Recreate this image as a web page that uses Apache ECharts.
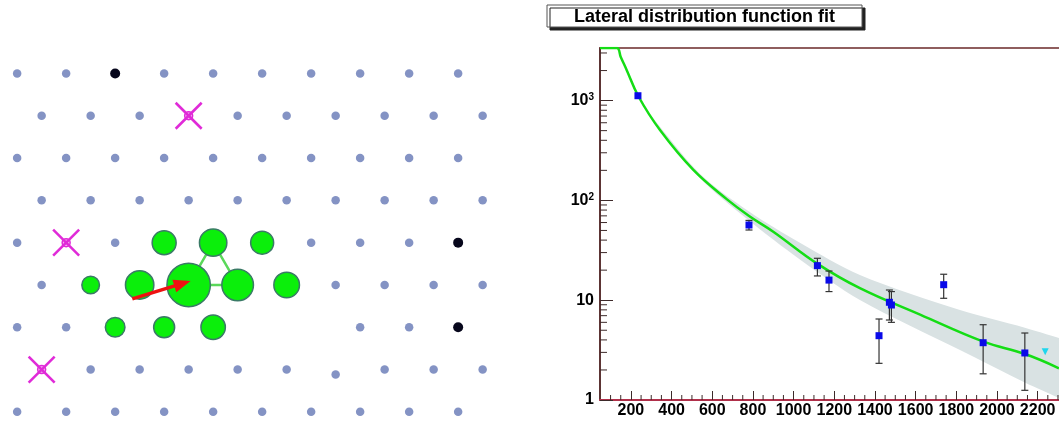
<!DOCTYPE html>
<html><head><meta charset="utf-8">
<script src="https://cdn.jsdelivr.net/npm/echarts@6/dist/echarts.min.js"></script>
<style>html,body{margin:0;padding:0;background:#fff}#c{width:1059px;height:423px}</style>
</head><body><div id="c"></div>
<script>
// ---------- Lateral distribution function (right panel) ----------
const titleText = 'Lateral distribution function fit';
const xTickLabels = [200, 400, 600, 800, 1000, 1200, 1400, 1600, 1800, 2000, 2200];
const yTickLabels = [1, 10, 100, 1000];
const xRange = [48, 2305];
const yRange = [1, 3365];

// measured station signals vs distance
const distances = [234.6, 780.6, 1117, 1174, 1420, 1471, 1481, 1738, 1932, 2137];
const signals   = [1119, 56.7, 22.2, 15.9, 4.41, 9.53, 8.95, 14.3, 3.75, 2.96];
const errLow    = [null, 50.5, 17.5, 12.2, 2.33, 6.33, 6.0, 10.45, 1.83, 1.25];
const errHigh   = [null, 63, 26.3, 19.6, 6.48, 12.65, 12.2, 18.2, 5.68, 4.69];
// non-triggered / special station
const silentDist = [2237];
const silentSignal = [3.05];

// fitted LDF curve (top part clipped at frame)
const fitX = [48, 131, 150, 179, 236, 343, 507, 671, 781, 900, 1114, 1326, 1622, 1933, 2138, 2305];
const fitY = [3365, 3365, 2735, 2028, 1112, 507, 202, 103, 69.8, 48.6, 23.4, 13.2, 7.16, 3.84, 2.89, 2.08];

// uncertainty band of the fit
const bandX     = [300, 540, 781, 1031, 1326, 1818, 2137, 2305];
const bandUpper = [700, 184, 77.4, 37.6, 17.9, 7.97, 5.3, 4.18];
const bandLower = [690, 168, 62.9, 25.6, 10.05, 3.17, 1.5, 1.05];

// ---------- Detector array (left panel) ----------
// positions in units of grid spacing (x) and row index (y)
const stationsGray = [
  [0,0],[1,0],[3,0],[4,0],[5,0],[6,0],[7,0],[8,0],[9,0],
  [0.5,1],[1.5,1],[2.5,1],[4.5,1],[5.5,1],[6.5,1],[7.5,1],[8.5,1],[9.5,1],
  [0,2],[1,2],[2,2],[3,2],[4,2],[5,2],[6,2],[7,2],[8,2],[9,2],
  [0.5,3],[1.5,3],[2.5,3],[3.5,3],[4.5,3],[5.5,3],[6.5,3],[7.5,3],[8.5,3],[9.5,3],
  [0,4],[2,4],[6,4],[7,4],[8,4],
  [0.5,5],[6.5,5],[7.5,5],[8.5,5],[9.5,5],
  [0,6],[1,6],[7,6],[8,6],
  [1.5,7],[2.5,7],[3.5,7],[4.5,7],[5.5,7],[6.5,7.12],[7.5,7],[8.5,7],[9.5,7],
  [0,8],[1,8],[2,8],[3,8],[4,8],[5,8],[6,8],[7,8],[8,8],[9,8]
];
const stationsDead = [[2,0],[9,4],[9,6]];
const stationsCrossed = [[3.5,1],[1,4],[0.5,7]];
// triggered stations: x, y, signal (VEM)
const stationsHit = [
  [3,4,11.2],[4,4,25.1],[5,4,8.8],
  [1.5,5,2.46],[2.5,5,31.8],[3.5,5,1110],[4.5,5,67.8],[5.5,5,16.4],
  [2,6,3.95],[3,6,5.5],[4,6,12.3]
];
const triangle = [[3.5,5],[4,4],[4.5,5],[3.5,5]];
const arrowTail = [2.35, 5.33];
const showerCore = [3.54, 4.906];

// ---------- helpers ----------
const FONT = '"Liberation Sans", Arial, Helvetica, sans-serif';
const yMinorTicks = [];
[1, 10, 100, 1000].forEach(d => { for (let k = 2; k <= 9; k++) if (d * k < yRange[1]) yMinorTicks.push([xRange[0], d * k]); });
const xMinorTicks = [];
for (let v = 100; v < xRange[1]; v += 50) if (v % 200 !== 0) xMinorTicks.push([v, yRange[0]]);

const pts = distances.map((d, i) => [d, signals[i]]);
const errs = distances.map((d, i) => errLow[i] == null ? null : [d, errLow[i], errHigh[i]]).filter(Boolean);
const tickColor = '#3d2a2a';

const chart = echarts.init(document.getElementById('c'), null, {renderer: 'canvas'});
chart.setOption({
  backgroundColor: '#fff',
  animation: false,
  graphic: [
    {type: 'rect', shape: {x: 547, y: 5, width: 315, height: 22},
     style: {fill: '#fff', stroke: '#555', lineWidth: 1, shadowColor: '#222', shadowOffsetX: 3, shadowOffsetY: 3, shadowBlur: 0}, z: 10},
    {type: 'text', x: 704.5, y: 17.5,
     style: {text: titleText, font: 'bold 18px ' + FONT, fill: '#000', align: 'center', verticalAlign: 'middle', textAlign: 'center', textVerticalAlign: 'middle'}, z: 11}
  ],
  grid: [
    {left: 600, top: 48, right: 0, bottom: 23, outerBoundsMode: 'none'},
    {left: 0, top: 10, width: 524.3, height: 410.3, outerBoundsMode: 'none'}
  ],
  xAxis: [
    {type: 'value', gridIndex: 0, min: xRange[0], max: xRange[1], position: 'bottom',
     axisLine: {show: true, onZero: false, lineStyle: {color: '#b0304a', width: 2}},
     axisTick: {show: true, inside: true, length: 9, customValues: xTickLabels, lineStyle: {color: tickColor, width: 1}},
     axisLabel: {show: true, customValues: xTickLabels, margin: 3, color: '#000', fontSize: 16, fontWeight: 'bold', fontFamily: FONT,
       formatter: v => String(v)},
     splitLine: {show: false}},
    {type: 'value', gridIndex: 0, min: xRange[0], max: xRange[1], position: 'top',
     axisLine: {show: true, onZero: false, lineStyle: {color: '#6b2a2a', width: 1.5}},
     axisTick: {show: false}, axisLabel: {show: false}, splitLine: {show: false}},
    {type: 'value', gridIndex: 1, min: -0.35, max: 10.35, show: false}
  ],
  yAxis: [
    {type: 'log', logBase: 10, gridIndex: 0, min: yRange[0], max: yRange[1],
     axisLine: {show: true, onZero: false, lineStyle: {color: '#5c3434', width: 2}},
     axisTick: {show: true, inside: true, length: 13, lineStyle: {color: tickColor, width: 1}},
     axisLabel: {show: true, margin: 6, color: '#000', fontSize: 16, fontWeight: 'bold', fontFamily: FONT,
       formatter: v => {
         const e = Math.round(Math.log10(v));
         if (Math.abs(Math.log10(v) - e) > 1e-6) return '';
         if (!yTickLabels.includes(Math.pow(10, e))) return '';
         return e <= 1 ? String(Math.pow(10, e)) : '10{s|' + e + '}';
       },
       rich: {s: {fontSize: 10, fontWeight: 'bold', fontFamily: FONT, color: '#000', verticalAlign: 'top', lineHeight: 10, padding: [0, 0, 6, 0]}}},
     splitLine: {show: false}},
    {type: 'value', gridIndex: 1, min: -1.5, max: 8.2, inverse: true, show: false}
  ],
  series: [
    // uncertainty band (polygon between upper and lower edges; end points doubled to keep corners sharp)
    {type: 'custom', xAxisIndex: 0, yAxisIndex: 0, data: [[bandX[0], bandLower[0]]], z: 1, silent: true, clip: true,
     renderItem: (params, api) => {
       const up = bandX.map((x, i) => api.coord([x, bandUpper[i]]));
       const lo = bandX.map((x, i) => api.coord([x, bandLower[i]])).reverse();
       const n = up.length;
       const pts = [up[0]].concat(up, [up[n - 1]], [lo[0]], lo, [lo[n - 1]]);
       return {type: 'polygon', shape: {points: pts, smooth: 0.3}, style: {fill: '#d9e2e3'}};
     }},
    // fit curve
    {type: 'line', xAxisIndex: 0, yAxisIndex: 0, symbol: 'none', smooth: 0.4, clip: true, silent: true,
     data: fitX.map((x, i) => [x, fitY[i]]), lineStyle: {color: '#15dd15', width: 2.5}, z: 3},
    // error bars
    {type: 'custom', xAxisIndex: 0, yAxisIndex: 0, data: errs, encode: {x: 0, y: [1, 2]}, z: 4, silent: true,
     renderItem: (params, api) => {
       const x = api.value(0), a = api.coord([x, api.value(2)]), b = api.coord([x, api.value(1)]);
       const c = 3.5, st = {stroke: '#333', lineWidth: 1.2};
       return {type: 'group', children: [
         {type: 'line', shape: {x1: a[0], y1: a[1], x2: b[0], y2: b[1]}, style: st},
         {type: 'line', shape: {x1: a[0] - c, y1: a[1], x2: a[0] + c, y2: a[1]}, style: st},
         {type: 'line', shape: {x1: b[0] - c, y1: b[1], x2: b[0] + c, y2: b[1]}, style: st}
       ]};
     }},
    // measured signals
    {type: 'scatter', xAxisIndex: 0, yAxisIndex: 0, symbol: 'rect', symbolSize: 7, data: pts,
     itemStyle: {color: '#0a0ae8', opacity: 1}, z: 5, silent: true},
    {type: 'scatter', xAxisIndex: 0, yAxisIndex: 0, symbol: 'triangle', symbolRotate: 180, symbolSize: 7,
     data: silentDist.map((d, i) => [d, silentSignal[i]]), itemStyle: {color: '#1ed6ee', opacity: 1}, z: 5, silent: true},
    // minor ticks
    {type: 'custom', xAxisIndex: 0, yAxisIndex: 0, data: yMinorTicks, z: 6, silent: true,
     renderItem: (params, api) => {
       const p = api.coord([api.value(0), api.value(1)]);
       return {type: 'line', shape: {x1: p[0], y1: p[1], x2: p[0] + 7, y2: p[1]}, style: {stroke: tickColor, lineWidth: 1}};
     }},
    {type: 'custom', xAxisIndex: 0, yAxisIndex: 0, data: xMinorTicks, z: 6, silent: true,
     renderItem: (params, api) => {
       const p = api.coord([api.value(0), api.value(1)]);
       return {type: 'line', shape: {x1: p[0], y1: p[1], x2: p[0], y2: p[1] - 5}, style: {stroke: tickColor, lineWidth: 1}};
     }},

    // ---------- detector array ----------
    {type: 'line', xAxisIndex: 2, yAxisIndex: 1, data: triangle, symbol: 'none', silent: true,
     lineStyle: {color: '#5ad85a', width: 2.5}, z: 2},
    {type: 'scatter', xAxisIndex: 2, yAxisIndex: 1, data: stationsGray, symbolSize: 8.5, silent: true,
     itemStyle: {color: '#8493c4', opacity: 1}, z: 2},
    {type: 'scatter', xAxisIndex: 2, yAxisIndex: 1, data: stationsDead, symbolSize: 10, silent: true,
     itemStyle: {color: '#07071c', opacity: 1}, z: 2},
    {type: 'scatter', xAxisIndex: 2, yAxisIndex: 1, data: stationsHit, silent: true,
     symbolSize: v => 2 * (6.9 + 4.86 * Math.log10(v[2])),
     itemStyle: {color: '#0bef0b', opacity: 1, borderColor: '#3a7a66', borderWidth: 1.5}, z: 3},
    {type: 'custom', xAxisIndex: 2, yAxisIndex: 1, data: stationsCrossed, z: 4, silent: true,
     renderItem: (params, api) => {
       const p = api.coord([api.value(0), api.value(1)]), a = 13;
       const st = {stroke: '#e02ad8', lineWidth: 2.5};
       return {type: 'group', children: [
         {type: 'line', shape: {x1: p[0] - a, y1: p[1] - a, x2: p[0] + a, y2: p[1] + a}, style: st},
         {type: 'line', shape: {x1: p[0] + a, y1: p[1] - a, x2: p[0] - a, y2: p[1] + a}, style: st},
         {type: 'circle', shape: {cx: p[0], cy: p[1], r: 4}, style: {stroke: '#e02ad8', lineWidth: 1.5, fill: 'rgba(224,42,216,0.35)'}}
       ]};
     }},
    {type: 'custom', xAxisIndex: 2, yAxisIndex: 1, data: [[arrowTail[0], arrowTail[1], showerCore[0], showerCore[1]]], z: 5, silent: true,
     renderItem: (params, api) => {
       const t = api.coord([api.value(0), api.value(1)]), h = api.coord([api.value(2), api.value(3)]);
       const dx = h[0] - t[0], dy = h[1] - t[1], L = Math.hypot(dx, dy), ux = dx / L, uy = dy / L;
       const hl = 17, hw = 6.5, bx = h[0] - ux * hl, by = h[1] - uy * hl;
       return {type: 'group', children: [
         {type: 'line', shape: {x1: t[0], y1: t[1], x2: bx + ux * 2, y2: by + uy * 2}, style: {stroke: '#ee1111', lineWidth: 3.5}},
         {type: 'polygon', shape: {points: [[h[0], h[1]], [bx - uy * hw, by + ux * hw], [bx + uy * hw, by - ux * hw]]}, style: {fill: '#ee1111'}}
       ]};
     }}
  ]
});
</script></body></html>
